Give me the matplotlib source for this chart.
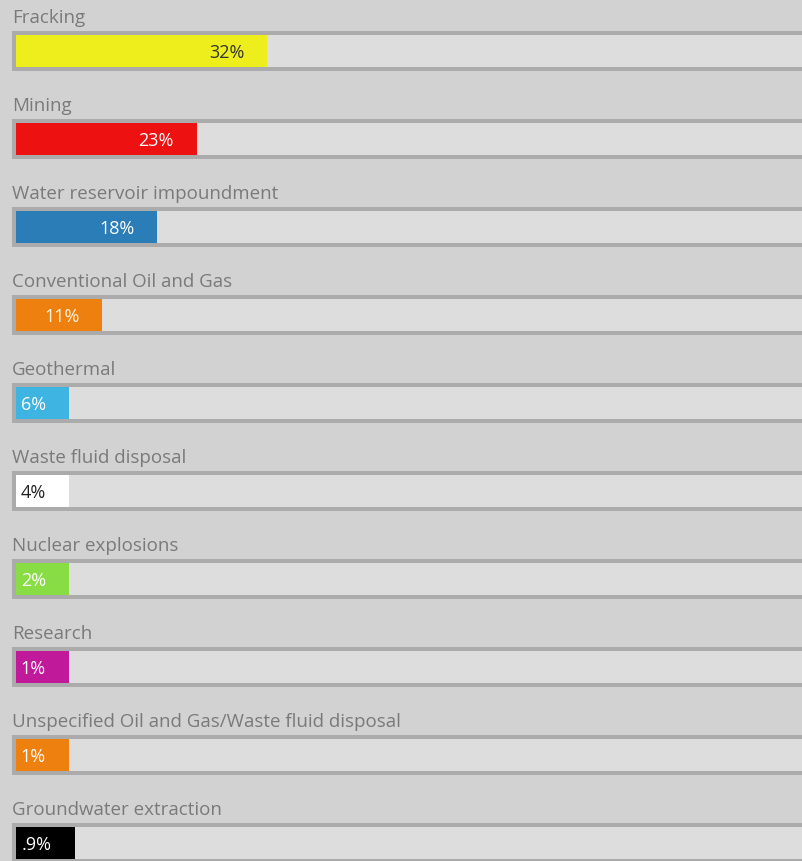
import matplotlib.pyplot as plt

plt.rcParams['font.family'] = ['Open Sans', 'DejaVu Sans']

causes = ['Fracking', 'Mining', 'Water reservoir impoundment',
          'Conventional Oil and Gas', 'Geothermal', 'Waste fluid disposal',
          'Nuclear explosions', 'Research',
          'Unspecified Oil and Gas/Waste fluid disposal',
          'Groundwater extraction']
shares = [32, 23, 18, 11, 6, 4, 2, 1, 1, 0.9]
value_labels = ['32%', '23%', '18%', '11%', '6%', '4%', '2%', '1%', '1%', '.9%']
bar_colors = ['#eeee1c', '#ee1111', '#2b7db8', '#ee8010', '#3db4e2',
              '#ffffff', '#88dd44', '#c0199a', '#ee8010', '#000000']
text_colors = ['#333333', '#ffffff', '#ffffff', '#fff4e0', '#ffffff',
               '#222222', '#ffffff', '#ffffff', '#ffffff', '#ffffff']

W, H = 802, 862
px_per_pct = 7.85
x0 = 16          # pixel where 0% sits
pitch = 88

fig = plt.figure(figsize=(W / 100, H / 100), dpi=100, facecolor='#d2d2d2')
ax = fig.add_axes([0, 0, 1, 1])
ax.set_facecolor('#d2d2d2')
# x in percent, y in pixel rows from the top
ax.set_xlim(-x0 / px_per_pct, (W - x0) / px_per_pct)
ax.set_ylim(H, 0)
ax.axis('off')

to_pct = 1 / px_per_pct
for i, (name, val, lab) in enumerate(zip(causes, shares, value_labels)):
    top = 32 + i * pitch
    # track frame and inner groove
    ax.barh(top + 20, 120, left=-4 * to_pct, height=40, color='#ababab', lw=0)
    ax.barh(top + 20, 120, left=0, height=32, color='#dddddd', lw=0)
    # bar stays wide enough to hold its label
    min_w = (41 + 6 * len(lab)) * to_pct
    w = max(val, min_w)
    ax.barh(top + 20, w, left=0, height=32, color=bar_colors[i], lw=0)
    ax.text(w - 23 * to_pct, top + 21, lab, ha='right', va='center',
            fontsize=13, color=text_colors[i])
    ax.text(-4 * to_pct, top - 14, name, ha='left', va='center',
            fontsize=13.5, color='#7a7a7a')

fig.savefig('out.png', dpi=100, facecolor=fig.get_facecolor())
